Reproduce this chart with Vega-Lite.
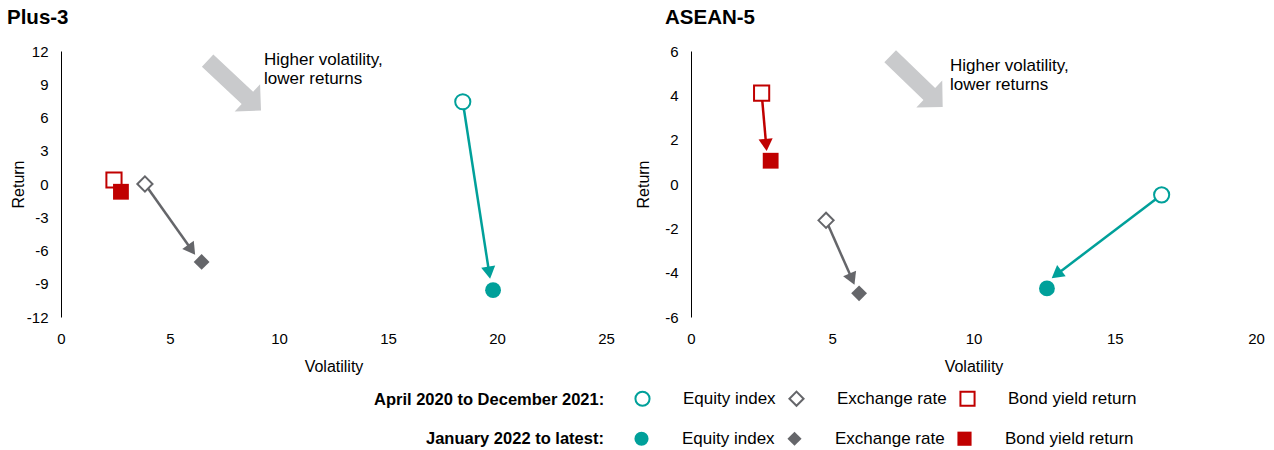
{
  "$schema": "https://vega.github.io/schema/vega-lite/v6.json",
  "padding": {"left": 7, "top": 7, "right": 4, "bottom": 0},
  "spacing": 85,
  "bounds": "flush",
  "background": "white",
  "config": {
    "view": {"stroke": null},
    "font": "Liberation Sans",
    "axis": {"grid": false, "ticks": false, "tickSize": 0, "labelFontSize": 15, "titleFontSize": 16, "titleFontWeight": "normal", "labelColor": "black", "titleColor": "black", "domainColor": "black", "domainWidth": 1, "labelFont": "Liberation Sans", "titleFont": "Liberation Sans", "labelOverlap": false, "labelFlush": false, "labelExpr": "replace(datum.label, '\u2212', '-')"},
    "axisX": {"domain": false, "labelPadding": 14, "titlePadding": 12},
    "axisY": {"domain": true, "labelPadding": 13},
    "title": {"font": "Liberation Sans", "fontSize": 20.5, "fontWeight": "bold", "color": "black", "anchor": "start", "frame": "group"},
    "legend": {"labelFont": "Liberation Sans", "titleFont": "Liberation Sans", "labelColor": "black", "titleColor": "black"}
  },
  "datasets": {
    "points": [
      {"region": "Plus-3", "series": "Equity index", "vol": 18.43, "ret": 7.42, "period": "open"},
      {"region": "Plus-3", "series": "Equity index", "vol": 19.82, "ret": -9.58, "period": "filled"},
      {"region": "Plus-3", "series": "Exchange rate", "vol": 3.85, "ret": 0.0, "period": "open"},
      {"region": "Plus-3", "series": "Exchange rate", "vol": 6.45, "ret": -7.03, "period": "filled"},
      {"region": "Plus-3", "series": "Bond yield return", "vol": 2.43, "ret": 0.36, "period": "open"},
      {"region": "Plus-3", "series": "Bond yield return", "vol": 2.75, "ret": -0.7, "period": "filled"},
      {"region": "ASEAN-5", "series": "Bond yield return", "vol": 2.5, "ret": 4.1, "period": "open"},
      {"region": "ASEAN-5", "series": "Bond yield return", "vol": 2.82, "ret": 1.05, "period": "filled"},
      {"region": "ASEAN-5", "series": "Exchange rate", "vol": 4.78, "ret": -1.64, "period": "open"},
      {"region": "ASEAN-5", "series": "Exchange rate", "vol": 5.95, "ret": -4.93, "period": "filled"},
      {"region": "ASEAN-5", "series": "Equity index", "vol": 16.66, "ret": -0.49, "period": "open"},
      {"region": "ASEAN-5", "series": "Equity index", "vol": 12.6, "ret": -4.71, "period": "filled"}
    ],
    "arrows": [
      {"region": "Plus-3", "series": "Equity index", "vol": 18.43, "ret": 7.42, "vol2": 19.64, "ret2": -8.0},
      {"region": "Plus-3", "series": "Exchange rate", "vol": 3.85, "ret": 0.0, "vol2": 5.99, "ret2": -5.94},
      {"region": "ASEAN-5", "series": "Bond yield return", "vol": 2.5, "ret": 4.1, "vol2": 2.66, "ret2": 1.76},
      {"region": "ASEAN-5", "series": "Exchange rate", "vol": 4.78, "ret": -1.64, "vol2": 5.7, "ret2": -4.29},
      {"region": "ASEAN-5", "series": "Equity index", "vol": 16.66, "ret": -0.49, "vol2": 12.94, "ret2": -4.08}
    ],
    "notes": [
      {"region": "Plus-3", "arrowVol": 7.95, "arrowRet": 8.88, "textVol": 9.31, "textRet": 11.95, "label": ["Higher volatility,", "lower returns"]},
      {"region": "ASEAN-5", "arrowVol": 7.98, "arrowRet": 4.62, "textVol": 9.17, "textRet": 5.67, "label": ["Higher volatility,", "lower returns"]}
    ]
  },
  "hconcat": [
    {
      "title": {"text": "Plus-3", "dx": -54, "offset": 16},
      "width": 545,
      "height": 266,
      "resolve": {"scale": {"shape": "independent", "fill": "independent", "stroke": "independent"}},
      "layer": [
        {
          "mark": {"type": "rule", "color": "black", "strokeWidth": 1.3},
          "encoding": {"y": {"datum": 0, "type": "quantitative"}}
        },
        {
          "data": {"name": "notes"},
          "transform": [{"filter": "datum.region === 'Plus-3'"}],
          "mark": {"type": "point", "shape": "M -1 -0.23 L 0.49 -0.23 L 0.49 -0.51 L 1 0 L 0.49 0.51 L 0.49 0.23 L -1 0.23 Z", "size": 5329, "angle": 43, "filled": true, "color": "#C9CACC", "opacity": 1},
          "encoding": {
            "x": {"field": "arrowVol", "type": "quantitative"},
            "y": {"field": "arrowRet", "type": "quantitative"}
          }
        },
        {
          "data": {"name": "notes"},
          "transform": [{"filter": "datum.region === 'Plus-3'"}],
          "mark": {"type": "text", "align": "left", "baseline": "top", "fontSize": 17, "lineHeight": 19, "color": "black", "font": "Liberation Sans"},
          "encoding": {
            "x": {"field": "textVol", "type": "quantitative"},
            "y": {"field": "textRet", "type": "quantitative"},
            "text": {"field": "label"}
          }
        },
        {
          "data": {"name": "arrows"},
          "transform": [{"filter": "datum.region === 'Plus-3'"}],
          "mark": {"type": "rule", "strokeWidth": 2.5},
          "encoding": {
            "x": {"field": "vol", "type": "quantitative"},
            "y": {"field": "ret", "type": "quantitative"},
            "x2": {"field": "vol2"},
            "y2": {"field": "ret2"},
            "color": {"field": "series", "type": "nominal", "scale": {"domain": ["Equity index", "Exchange rate", "Bond yield return"], "range": ["#00A09A", "#65666A", "#C00000"]}, "legend": null}
          }
        },
        {
          "data": {"name": "points"},
          "transform": [{"filter": "datum.region === 'Plus-3' && datum.period === 'open'"}],
          "mark": {"type": "point", "filled": false, "strokeWidth": 2, "size": 230, "opacity": 1},
          "encoding": {
            "x": {"field": "vol", "type": "quantitative", "title": "Volatility", "scale": {"domain": [0, 25], "nice": false}, "axis": {"values": [0, 5, 10, 15, 20, 25], "format": "d", "labelFlush": false, "labelOverlap": false}},
            "y": {"field": "ret", "type": "quantitative", "title": "Return", "scale": {"domain": [-12, 12], "nice": false}, "axis": {"values": [-12, -9, -6, -3, 0, 3, 6, 9, 12], "tickCount": 20, "format": "d", "titlePadding": 0, "labelFlush": false, "labelOverlap": false}},
            "fill": {"value": "white"},
            "shape": {"field": "series", "type": "nominal", "scale": {"domain": ["Equity index", "Exchange rate", "Bond yield return"], "range": ["circle", "diamond", "square"]},
              "legend": {"orient": "none", "legendX": 313, "legendY": 339, "direction": "horizontal", "title": "April 2020 to December 2021:", "titleOrient": "left", "titleFontSize": 16.5, "titleFontWeight": "bold", "titlePadding": 29, "titleLimit": 0, "labelFontSize": 17, "labelOffset": 32, "columnPadding": 9, "symbolSize": 200, "symbolStrokeWidth": 2, "labelLimit": 0}},
            "stroke": {"field": "series", "type": "nominal", "scale": {"domain": ["Equity index", "Exchange rate", "Bond yield return"], "range": ["#00A09A", "#65666A", "#C00000"]},
              "legend": {"orient": "none", "legendX": 313, "legendY": 339, "direction": "horizontal", "title": "April 2020 to December 2021:", "titleOrient": "left", "titleFontSize": 16.5, "titleFontWeight": "bold", "titlePadding": 29, "titleLimit": 0, "labelFontSize": 17, "labelOffset": 32, "columnPadding": 9, "symbolSize": 200, "symbolStrokeWidth": 2, "labelLimit": 0}}
          }
        },
        {
          "data": {"name": "points"},
          "transform": [{"filter": "datum.region === 'Plus-3' && datum.period === 'filled'"}],
          "mark": {"type": "point", "filled": true, "size": 250, "opacity": 1},
          "encoding": {
            "x": {"field": "vol", "type": "quantitative"},
            "y": {"field": "ret", "type": "quantitative"},
            "shape": {"field": "series", "type": "nominal", "scale": {"domain": ["Equity index", "Exchange rate", "Bond yield return"], "range": ["circle", "diamond", "square"]},
              "legend": {"orient": "none", "legendX": 365, "legendY": 379, "direction": "horizontal", "title": "January 2022 to latest:", "titleOrient": "left", "titleFontSize": 16.5, "titleFontWeight": "bold", "titlePadding": 29, "titleLimit": 0, "labelFontSize": 17, "labelOffset": 32, "columnPadding": 9, "symbolSize": 200, "labelLimit": 0}},
            "fill": {"field": "series", "type": "nominal", "scale": {"domain": ["Equity index", "Exchange rate", "Bond yield return"], "range": ["#00A09A", "#65666A", "#C00000"]},
              "legend": {"orient": "none", "legendX": 365, "legendY": 379, "direction": "horizontal", "title": "January 2022 to latest:", "titleOrient": "left", "titleFontSize": 16.5, "titleFontWeight": "bold", "titlePadding": 29, "titleLimit": 0, "labelFontSize": 17, "labelOffset": 32, "columnPadding": 9, "symbolSize": 200, "labelLimit": 0}}
          }
        },
        {
          "data": {"name": "arrows"},
          "transform": [{"filter": "datum.region === 'Plus-3' && datum.series === 'Equity index'"}],
          "mark": {"type": "point", "shape": "triangle-right", "angle": 81, "filled": true, "size": 200, "opacity": 1},
          "encoding": {
            "x": {"field": "vol2", "type": "quantitative"},
            "y": {"field": "ret2", "type": "quantitative"},
            "color": {"field": "series", "type": "nominal", "legend": null}
          }
        },
        {
          "data": {"name": "arrows"},
          "transform": [{"filter": "datum.region === 'Plus-3' && datum.series === 'Exchange rate'"}],
          "mark": {"type": "point", "shape": "triangle-right", "angle": 54.5, "filled": true, "size": 200, "opacity": 1},
          "encoding": {
            "x": {"field": "vol2", "type": "quantitative"},
            "y": {"field": "ret2", "type": "quantitative"},
            "color": {"field": "series", "type": "nominal", "legend": null}
          }
        }
      ]
    },
    {
      "title": {"text": "ASEAN-5", "dx": -26, "offset": 16},
      "width": 565,
      "height": 266,
      "resolve": {"scale": {"shape": "independent", "fill": "independent", "stroke": "independent"}},
      "layer": [
        {
          "mark": {"type": "rule", "color": "#7F7F7F", "strokeWidth": 2},
          "encoding": {"y": {"datum": 0, "type": "quantitative"}}
        },
        {
          "data": {"name": "notes"},
          "transform": [{"filter": "datum.region === 'ASEAN-5'"}],
          "mark": {"type": "point", "shape": "M -1 -0.23 L 0.49 -0.23 L 0.49 -0.51 L 1 0 L 0.49 0.51 L 0.49 0.23 L -1 0.23 Z", "size": 5329, "angle": 44, "filled": true, "color": "#C9CACC", "opacity": 1},
          "encoding": {
            "x": {"field": "arrowVol", "type": "quantitative"},
            "y": {"field": "arrowRet", "type": "quantitative"}
          }
        },
        {
          "data": {"name": "notes"},
          "transform": [{"filter": "datum.region === 'ASEAN-5'"}],
          "mark": {"type": "text", "align": "left", "baseline": "top", "fontSize": 17, "lineHeight": 19, "color": "black", "font": "Liberation Sans"},
          "encoding": {
            "x": {"field": "textVol", "type": "quantitative"},
            "y": {"field": "textRet", "type": "quantitative"},
            "text": {"field": "label"}
          }
        },
        {
          "data": {"name": "arrows"},
          "transform": [{"filter": "datum.region === 'ASEAN-5'"}],
          "mark": {"type": "rule", "strokeWidth": 2.5},
          "encoding": {
            "x": {"field": "vol", "type": "quantitative"},
            "y": {"field": "ret", "type": "quantitative"},
            "x2": {"field": "vol2"},
            "y2": {"field": "ret2"},
            "color": {"field": "series", "type": "nominal", "scale": {"domain": ["Equity index", "Exchange rate", "Bond yield return"], "range": ["#00A09A", "#65666A", "#C00000"]}, "legend": null}
          }
        },
        {
          "data": {"name": "points"},
          "transform": [{"filter": "datum.region === 'ASEAN-5' && datum.period === 'open'"}],
          "mark": {"type": "point", "filled": false, "strokeWidth": 2, "size": 230, "opacity": 1},
          "encoding": {
            "x": {"field": "vol", "type": "quantitative", "title": "Volatility", "scale": {"domain": [0, 20], "nice": false}, "axis": {"values": [0, 5, 10, 15, 20], "format": "d", "labelFlush": false, "labelOverlap": false}},
            "y": {"field": "ret", "type": "quantitative", "title": "Return", "scale": {"domain": [-6, 6], "nice": false}, "axis": {"values": [-6, -4, -2, 0, 2, 4, 6], "tickCount": 20, "format": "d", "titlePadding": 13, "labelFlush": false, "labelOverlap": false}},
            "fill": {"value": "white"},
            "shape": {"field": "series", "type": "nominal", "scale": {"domain": ["Equity index", "Exchange rate", "Bond yield return"], "range": ["circle", "diamond", "square"]}, "legend": null},
            "stroke": {"field": "series", "type": "nominal", "scale": {"domain": ["Equity index", "Exchange rate", "Bond yield return"], "range": ["#00A09A", "#65666A", "#C00000"]}, "legend": null}
          }
        },
        {
          "data": {"name": "points"},
          "transform": [{"filter": "datum.region === 'ASEAN-5' && datum.period === 'filled'"}],
          "mark": {"type": "point", "filled": true, "size": 250, "opacity": 1},
          "encoding": {
            "x": {"field": "vol", "type": "quantitative"},
            "y": {"field": "ret", "type": "quantitative"},
            "shape": {"field": "series", "type": "nominal", "scale": {"domain": ["Equity index", "Exchange rate", "Bond yield return"], "range": ["circle", "diamond", "square"]}, "legend": null},
            "fill": {"field": "series", "type": "nominal", "scale": {"domain": ["Equity index", "Exchange rate", "Bond yield return"], "range": ["#00A09A", "#65666A", "#C00000"]}, "legend": null}
          }
        },
        {
          "data": {"name": "arrows"},
          "transform": [{"filter": "datum.region === 'ASEAN-5' && datum.series === 'Bond yield return'"}],
          "mark": {"type": "point", "shape": "triangle-right", "angle": 85, "filled": true, "size": 200, "opacity": 1},
          "encoding": {
            "x": {"field": "vol2", "type": "quantitative"},
            "y": {"field": "ret2", "type": "quantitative"},
            "color": {"field": "series", "type": "nominal", "legend": null}
          }
        },
        {
          "data": {"name": "arrows"},
          "transform": [{"filter": "datum.region === 'ASEAN-5' && datum.series === 'Exchange rate'"}],
          "mark": {"type": "point", "shape": "triangle-right", "angle": 66.5, "filled": true, "size": 200, "opacity": 1},
          "encoding": {
            "x": {"field": "vol2", "type": "quantitative"},
            "y": {"field": "ret2", "type": "quantitative"},
            "color": {"field": "series", "type": "nominal", "legend": null}
          }
        },
        {
          "data": {"name": "arrows"},
          "transform": [{"filter": "datum.region === 'ASEAN-5' && datum.series === 'Equity index'"}],
          "mark": {"type": "point", "shape": "triangle-right", "angle": 142.5, "filled": true, "size": 200, "opacity": 1},
          "encoding": {
            "x": {"field": "vol2", "type": "quantitative"},
            "y": {"field": "ret2", "type": "quantitative"},
            "color": {"field": "series", "type": "nominal", "legend": null}
          }
        }
      ]
    }
  ],
  "resolve": {"scale": {"shape": "independent", "fill": "independent", "stroke": "independent"}}
}
